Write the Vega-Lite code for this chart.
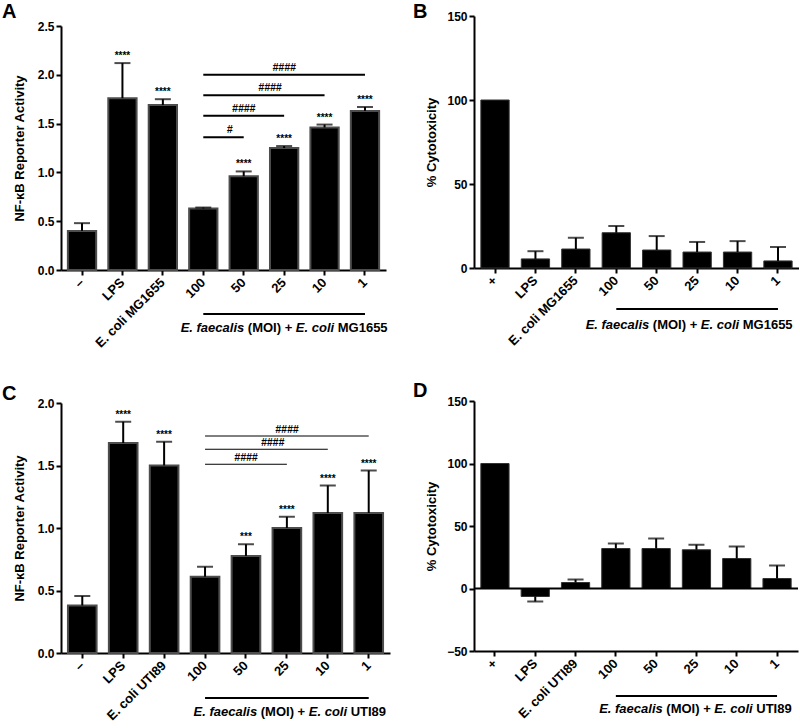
{
"$schema":"https://vega.github.io/schema/vega-lite/v6.json",
"padding":{"left":2,"top":2,"right":0,"bottom":0},
"bounds":"flush",
"columns":2,
"spacing":{"row":131,"column":84},
"config":{"font":"Liberation Sans","view":{"stroke":null},
 "axis":{"domainColor":"black","tickColor":"black","labelColor":"black","titleColor":"black","domainWidth":2,"tickWidth":2,"tickSize":5,"labelFontSize":12,"labelFontWeight":"bold","titleFontSize":13,"titleFontWeight":"bold","grid":false},
 "axisX":{"labelAngle":-45,"labelAlign":"right","labelBaseline":"middle","labelFontSize":13,"labelPadding":5,"bandPosition":0.5},
 "axisY":{"labelPadding":2},
 "text":{"color":"black","font":"Liberation Sans"}
},
"datasets":{
 "a":[{"cat":"–","v":0.40,"e":0.48,"s":""},{"cat":"LPS","v":1.76,"e":2.12,"s":"****"},{"cat":"E. coli MG1655","v":1.69,"e":1.75,"s":"****"},{"cat":"100","v":0.63,"e":0.64,"s":""},{"cat":"50","v":0.96,"e":1.01,"s":"****"},{"cat":"25","v":1.25,"e":1.27,"s":"****"},{"cat":"10","v":1.46,"e":1.49,"s":"****"},{"cat":"1","v":1.63,"e":1.67,"s":"****"}],
 "abr":[{"from":"100","to":"1","y":2.0,"lab":"####","at":"25","pos":"c"},{"from":"100","to":"10","y":1.79,"lab":"####","at":"25","pos":"e"},{"from":"100","to":"25","y":1.58,"lab":"####","at":"50","pos":"c"},{"from":"100","to":"50","y":1.36,"lab":"#","at":"50","pos":"e"}],
 "b":[{"cat":"+","v":100,"e":null},{"cat":"LPS","v":5.4,"e":10},{"cat":"E. coli MG1655","v":11.3,"e":18},{"cat":"100","v":21,"e":25},{"cat":"50","v":10.7,"e":19},{"cat":"25","v":9.5,"e":15.5},{"cat":"10","v":9.5,"e":16},{"cat":"1","v":4.2,"e":12.5}],
 "c":[{"cat":"–","v":0.38,"e":0.456,"s":""},{"cat":"LPS","v":1.68,"e":1.85,"s":"****"},{"cat":"E. coli UTI89","v":1.50,"e":1.69,"s":"****"},{"cat":"100","v":0.61,"e":0.69,"s":""},{"cat":"50","v":0.776,"e":0.87,"s":"***"},{"cat":"25","v":1.0,"e":1.09,"s":"****"},{"cat":"10","v":1.12,"e":1.34,"s":"****"},{"cat":"1","v":1.12,"e":1.46,"s":"****"}],
 "cbr":[{"from":"100","to":"1","y":1.736,"lab":"####","at":"25","pos":"c"},{"from":"100","to":"10","y":1.63,"lab":"####","at":"25","pos":"e"},{"from":"100","to":"25","y":1.51,"lab":"####","at":"50","pos":"c"}],
 "d":[{"cat":"+","v":100,"e":null},{"cat":"LPS","v":-6.4,"e":-10.4},{"cat":"E. coli UTI89","v":4.8,"e":7.2},{"cat":"100","v":32,"e":36},{"cat":"50","v":32,"e":40},{"cat":"25","v":31,"e":35},{"cat":"10","v":24,"e":33.6},{"cat":"1","v":8,"e":18.4}]
},
"concat":[
{
 "width":325,"height":254,
 "title":{"text":"A","anchor":"start","frame":"group","orient":"top","offset":0,"dx":-59,"dy":22,"baseline":"alphabetic","fontSize":20,"fontWeight":"bold","color":"black"},
 "layer":[
  {"data":{"name":"a"},"mark":{"type":"bar","color":"black","stroke":"#4d4d4d","strokeWidth":2},
   "encoding":{
    "x":{"field":"cat","type":"nominal","scale":{"domain":["–","LPS","E. coli MG1655","100","50","25","10","1"],"paddingInner":0.3,"paddingOuter":0.17},"axis":{"title":null}},
    "y":{"field":"v","type":"quantitative","scale":{"domain":[0,2.5],"range":[254,10],"nice":false},"axis":{"title":"NF-κB Reporter Activity","values":[0,0.5,1,1.5,2,2.5],"format":".1f","titlePadding":11}}}},
  {"data":{"name":"a"},"mark":{"type":"rule","strokeWidth":2,"color":"black"},"encoding":{"x":{"field":"cat","type":"nominal"},"y":{"field":"v","type":"quantitative"},"y2":{"field":"e"}}},
  {"data":{"name":"a"},"mark":{"type":"tick","orient":"horizontal","size":16,"thickness":2,"color":"black"},"encoding":{"x":{"field":"cat","type":"nominal"},"y":{"field":"e","type":"quantitative"}}},
  {"data":{"name":"a"},"mark":{"type":"text","baseline":"bottom","dy":-2,"fontSize":10,"fontWeight":"bold"},"encoding":{"x":{"field":"cat","type":"nominal"},"y":{"field":"e","type":"quantitative"},"text":{"field":"s"}}},
  {"data":{"name":"abr"},"mark":{"type":"rule","strokeWidth":2,"color":"black"},"encoding":{"x":{"field":"from","type":"nominal","bandPosition":0.5},"x2":{"field":"to"},"y":{"field":"y","type":"quantitative"}}},
  {"data":{"name":"abr"},"transform":[{"filter":"datum.pos == 'c'"}],"mark":{"type":"text","baseline":"bottom","dy":-2,"fontSize":10.5,"fontWeight":"bold","fontStyle":"italic"},"encoding":{"x":{"field":"at","type":"nominal","bandPosition":0.5},"y":{"field":"y","type":"quantitative"},"text":{"field":"lab"}}},
  {"data":{"name":"abr"},"transform":[{"filter":"datum.pos == 'e'"}],"mark":{"type":"text","baseline":"bottom","dy":-2,"fontSize":10.5,"fontWeight":"bold","fontStyle":"italic"},"encoding":{"x":{"field":"at","type":"nominal","bandPosition":0},"y":{"field":"y","type":"quantitative"},"text":{"field":"lab"}}},
  {"data":{"values":[{}]},"mark":{"type":"rule","strokeWidth":2,"color":"black"},"encoding":{"x":{"datum":"100","type":"nominal"},"x2":{"datum":"1"},"y":{"datum":-0.45,"type":"quantitative"}}},
  {"data":{"values":[{}]},"mark":{"type":"text","align":"left","baseline":"middle","fontSize":13,"fontWeight":"bold","fontStyle":"italic","dx":-103.5,"text":"E. faecalis"},"encoding":{"x":{"datum":"25","type":"nominal"},"y":{"datum":-0.594,"type":"quantitative"}}},
  {"data":{"values":[{}]},"mark":{"type":"text","align":"left","baseline":"middle","fontSize":13,"fontWeight":"bold","dx":-36.3,"text":"(MOI) +"},"encoding":{"x":{"datum":"25","type":"nominal"},"y":{"datum":-0.594,"type":"quantitative"}}},
  {"data":{"values":[{}]},"mark":{"type":"text","align":"left","baseline":"middle","fontSize":13,"fontWeight":"bold","fontStyle":"italic","dx":11.7,"text":"E. coli"},"encoding":{"x":{"datum":"25","type":"nominal"},"y":{"datum":-0.594,"type":"quantitative"}}},
  {"data":{"values":[{}]},"mark":{"type":"text","align":"left","baseline":"middle","fontSize":13,"fontWeight":"bold","dx":53.6,"text":"MG1655"},"encoding":{"x":{"datum":"25","type":"nominal"},"y":{"datum":-0.594,"type":"quantitative"}}}
 ]
},
{
 "width":325,"height":252,
 "title":{"text":"B","anchor":"start","frame":"group","orient":"top","offset":0,"dx":-61,"dy":28,"baseline":"alphabetic","fontSize":20,"fontWeight":"bold","color":"black"},
 "layer":[
  {"data":{"name":"b"},"mark":{"type":"bar","color":"black","stroke":"#333","strokeWidth":1},
   "encoding":{
    "x":{"field":"cat","type":"nominal","scale":{"domain":["+","LPS","E. coli MG1655","100","50","25","10","1"],"paddingInner":0.3,"paddingOuter":0.17},"axis":{"title":null}},
    "y":{"field":"v","type":"quantitative","scale":{"domain":[0,150],"nice":false},"axis":{"title":"% Cytotoxicity","values":[0,50,100,150],"titlePadding":8}}}},
  {"data":{"name":"b"},"transform":[{"filter":"datum.e != null"}],"mark":{"type":"rule","strokeWidth":2,"color":"black"},"encoding":{"x":{"field":"cat","type":"nominal"},"y":{"field":"v","type":"quantitative"},"y2":{"field":"e"}}},
  {"data":{"name":"b"},"transform":[{"filter":"datum.e != null"}],"mark":{"type":"tick","orient":"horizontal","size":16,"thickness":2,"color":"black"},"encoding":{"x":{"field":"cat","type":"nominal"},"y":{"field":"e","type":"quantitative"}}},
  {"data":{"values":[{}]},"mark":{"type":"rule","strokeWidth":2,"color":"black"},"encoding":{"x":{"datum":"100","type":"nominal"},"x2":{"datum":"1"},"y":{"datum":-24.4,"type":"quantitative"}}},
  {"data":{"values":[{}]},"mark":{"type":"text","align":"left","baseline":"middle","fontSize":13,"fontWeight":"bold","fontStyle":"italic","dx":-111.5,"text":"E. faecalis"},"encoding":{"x":{"datum":"25","type":"nominal"},"y":{"datum":-34,"type":"quantitative"}}},
  {"data":{"values":[{}]},"mark":{"type":"text","align":"left","baseline":"middle","fontSize":13,"fontWeight":"bold","dx":-44.3,"text":"(MOI) +"},"encoding":{"x":{"datum":"25","type":"nominal"},"y":{"datum":-34,"type":"quantitative"}}},
  {"data":{"values":[{}]},"mark":{"type":"text","align":"left","baseline":"middle","fontSize":13,"fontWeight":"bold","fontStyle":"italic","dx":3.7,"text":"E. coli"},"encoding":{"x":{"datum":"25","type":"nominal"},"y":{"datum":-34,"type":"quantitative"}}},
  {"data":{"values":[{}]},"mark":{"type":"text","align":"left","baseline":"middle","fontSize":13,"fontWeight":"bold","dx":45.6,"text":"MG1655"},"encoding":{"x":{"datum":"25","type":"nominal"},"y":{"datum":-34,"type":"quantitative"}}}
 ]
},
{
 "width":329,"height":252,
 "title":{"text":"C","anchor":"start","frame":"group","orient":"top","offset":0,"dx":-59,"dy":23,"baseline":"alphabetic","fontSize":20,"fontWeight":"bold","color":"black"},
 "layer":[
  {"data":{"name":"c"},"mark":{"type":"bar","color":"black","stroke":"#4d4d4d","strokeWidth":2},
   "encoding":{
    "x":{"field":"cat","type":"nominal","scale":{"domain":["–","LPS","E. coli UTI89","100","50","25","10","1"],"paddingInner":0.3,"paddingOuter":0.17},"axis":{"title":null}},
    "y":{"field":"v","type":"quantitative","scale":{"domain":[0,2],"range":[252,2],"nice":false},"axis":{"title":"NF-κB Reporter Activity","values":[0,0.5,1,1.5,2],"format":".1f","titlePadding":11}}}},
  {"data":{"name":"c"},"mark":{"type":"rule","strokeWidth":2,"color":"black"},"encoding":{"x":{"field":"cat","type":"nominal"},"y":{"field":"v","type":"quantitative"},"y2":{"field":"e"}}},
  {"data":{"name":"c"},"mark":{"type":"tick","orient":"horizontal","size":16,"thickness":2,"color":"black"},"encoding":{"x":{"field":"cat","type":"nominal"},"y":{"field":"e","type":"quantitative"}}},
  {"data":{"name":"c"},"mark":{"type":"text","baseline":"bottom","dy":-2,"fontSize":10,"fontWeight":"bold"},"encoding":{"x":{"field":"cat","type":"nominal"},"y":{"field":"e","type":"quantitative"},"text":{"field":"s"}}},
  {"data":{"name":"cbr"},"mark":{"type":"rule","strokeWidth":1,"color":"black"},"encoding":{"x":{"field":"from","type":"nominal","bandPosition":0.5},"x2":{"field":"to"},"y":{"field":"y","type":"quantitative"}}},
  {"data":{"name":"cbr"},"transform":[{"filter":"datum.pos == 'c'"}],"mark":{"type":"text","baseline":"bottom","dy":-1,"fontSize":10.5,"fontWeight":"bold","fontStyle":"italic"},"encoding":{"x":{"field":"at","type":"nominal","bandPosition":0.5},"y":{"field":"y","type":"quantitative"},"text":{"field":"lab"}}},
  {"data":{"name":"cbr"},"transform":[{"filter":"datum.pos == 'e'"}],"mark":{"type":"text","baseline":"bottom","dy":-1,"fontSize":10.5,"fontWeight":"bold","fontStyle":"italic"},"encoding":{"x":{"field":"at","type":"nominal","bandPosition":0},"y":{"field":"y","type":"quantitative"},"text":{"field":"lab"}}},
  {"data":{"values":[{}]},"mark":{"type":"rule","strokeWidth":2,"color":"black"},"encoding":{"x":{"datum":"100","type":"nominal"},"x2":{"datum":"1"},"y":{"datum":-0.36,"type":"quantitative"}}},
  {"data":{"values":[{}]},"mark":{"type":"text","align":"left","baseline":"middle","fontSize":13,"fontWeight":"bold","fontStyle":"italic","dx":-93.3,"text":"E. faecalis"},"encoding":{"x":{"datum":"25","type":"nominal"},"y":{"datum":-0.47,"type":"quantitative"}}},
  {"data":{"values":[{}]},"mark":{"type":"text","align":"left","baseline":"middle","fontSize":13,"fontWeight":"bold","dx":-26.1,"text":"(MOI) +"},"encoding":{"x":{"datum":"25","type":"nominal"},"y":{"datum":-0.47,"type":"quantitative"}}},
  {"data":{"values":[{}]},"mark":{"type":"text","align":"left","baseline":"middle","fontSize":13,"fontWeight":"bold","fontStyle":"italic","dx":21.9,"text":"E. coli"},"encoding":{"x":{"datum":"25","type":"nominal"},"y":{"datum":-0.47,"type":"quantitative"}}},
  {"data":{"values":[{}]},"mark":{"type":"text","align":"left","baseline":"middle","fontSize":13,"fontWeight":"bold","dx":63.8,"text":"UTI89"},"encoding":{"x":{"datum":"25","type":"nominal"},"y":{"datum":-0.47,"type":"quantitative"}}}
 ]
},
{
 "width":324,"height":250,
 "title":{"text":"D","anchor":"start","frame":"group","orient":"top","offset":0,"dx":-61,"dy":22,"baseline":"alphabetic","fontSize":20,"fontWeight":"bold","color":"black"},
 "layer":[
  {"data":{"name":"d"},"mark":{"type":"bar","color":"black","stroke":"#333","strokeWidth":1},
   "encoding":{
    "x":{"field":"cat","type":"nominal","scale":{"domain":["+","LPS","E. coli UTI89","100","50","25","10","1"],"paddingInner":0.3,"paddingOuter":0.17},"axis":{"title":null}},
    "y":{"field":"v","type":"quantitative","scale":{"domain":[-50,150],"nice":false},"axis":{"title":"% Cytotoxicity","values":[-50,0,50,100,150],"titlePadding":8}}}},
  {"data":{"values":[{}]},"mark":{"type":"rule","strokeWidth":2,"color":"black"},"encoding":{"y":{"datum":0,"type":"quantitative"}}},
  {"data":{"name":"d"},"transform":[{"filter":"datum.e != null"}],"mark":{"type":"rule","strokeWidth":2,"color":"black"},"encoding":{"x":{"field":"cat","type":"nominal"},"y":{"field":"v","type":"quantitative"},"y2":{"field":"e"}}},
  {"data":{"name":"d"},"transform":[{"filter":"datum.e != null"}],"mark":{"type":"tick","orient":"horizontal","size":16,"thickness":2,"color":"black"},"encoding":{"x":{"field":"cat","type":"nominal"},"y":{"field":"e","type":"quantitative"}}},
  {"data":{"values":[{}]},"mark":{"type":"rule","strokeWidth":2,"color":"black"},"encoding":{"x":{"datum":"100","type":"nominal"},"x2":{"datum":"1"},"y":{"datum":-86,"type":"quantitative"}}},
  {"data":{"values":[{}]},"mark":{"type":"text","align":"left","baseline":"middle","fontSize":13,"fontWeight":"bold","fontStyle":"italic","dx":-97.3,"text":"E. faecalis"},"encoding":{"x":{"datum":"25","type":"nominal"},"y":{"datum":-96.4,"type":"quantitative"}}},
  {"data":{"values":[{}]},"mark":{"type":"text","align":"left","baseline":"middle","fontSize":13,"fontWeight":"bold","dx":-30.1,"text":"(MOI) +"},"encoding":{"x":{"datum":"25","type":"nominal"},"y":{"datum":-96.4,"type":"quantitative"}}},
  {"data":{"values":[{}]},"mark":{"type":"text","align":"left","baseline":"middle","fontSize":13,"fontWeight":"bold","fontStyle":"italic","dx":17.9,"text":"E. coli"},"encoding":{"x":{"datum":"25","type":"nominal"},"y":{"datum":-96.4,"type":"quantitative"}}},
  {"data":{"values":[{}]},"mark":{"type":"text","align":"left","baseline":"middle","fontSize":13,"fontWeight":"bold","dx":59.8,"text":"UTI89"},"encoding":{"x":{"datum":"25","type":"nominal"},"y":{"datum":-96.4,"type":"quantitative"}}}
 ]
}
]
}
